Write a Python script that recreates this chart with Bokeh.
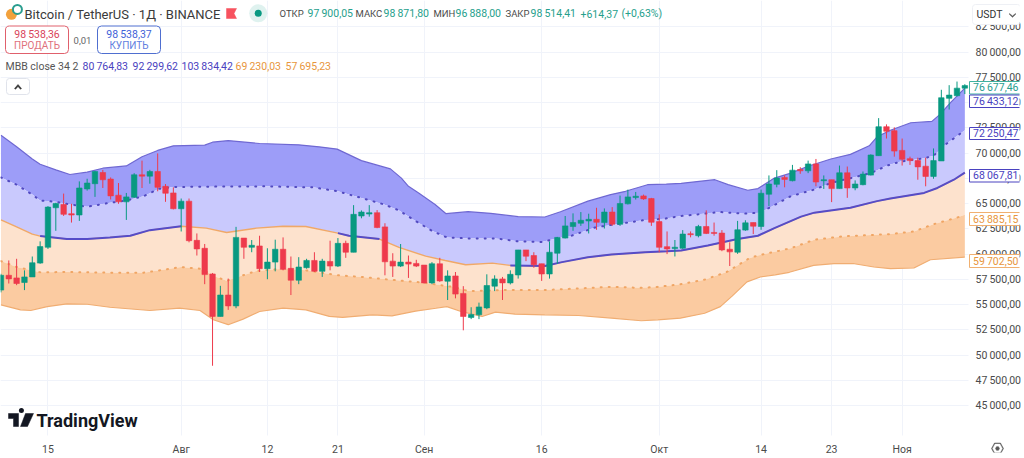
from bokeh.plotting import figure
from bokeh.models import Label, BoxAnnotation, PolyAnnotation, FixedTicker
from bokeh.embed import file_html
from bokeh.resources import INLINE

# ---------- data ----------
first_day = -6  # 9 July, days counted from 15 July
opens = [56438,57905,57644,57188,57742,59111,60676,64588,64914,64000,63871,66446,66968,68076,67424,65827,65175,65631,67848,67717,68174,66707,66055,
 64490,65240,61360,60578,58035,53830,55949,54873,61589,60676,60806,58557,59209,60480,58590,57416,58655,59372,58296,59274,58818,61065,60185,63771,63967,64097,62695,59305,58816,59207,59077,
 58914,57153,59044,57316,57838,56110,53730,53991,54676,56827,57544,57153,57935,60413,59859,59044,58033,60087,61587,62728,63054,63282,63445,63119,64162,62956,64977,65597,65760,65499,
 63217,60739,60549,60581,62016,61820,62733,62146,62081,60483,60190,62374,63124,62733,65927,66905,67590,67264,68373,68242,68927,67264,67362,66482,68047,66547,66873,67818,69742,72611,72219,
 70263,69448,69253,68699,67688,69220,75414,75675,76425]
closes = [57905,57546,57090,57742,59144,60741,64653,65012,63936,63870,66544,67033,68174,67359,65762,65175,65664,67848,67717,68174,66609,66022,64490,
 65240,61328,60513,57970,53830,55949,54873,61654,60676,60871,58557,59209,60480,58492,57416,58720,59372,58296,59307,58818,61065,60185,63934,64162,64097,62630,59240,58816,59207,59011,58816,
 57153,59044,57349,57838,56045,53828,54024,54774,56892,57544,57153,57999,60413,59794,58946,58033,60185,61652,62793,63119,63347,63445,63152,64162,62956,65010,65662,65727,65466,63152,
 60674,60511,60679,61983,61918,62733,62048,62048,60418,60222,62407,63092,62765,66025,66938,67525,67394,68307,68242,68927,67134,67362,66482,68047,66547,66938,67916,69807,72611,72154,70198,
 69383,69253,68633,67688,69253,75479,75740,76425,76677]
highs = [58050,59372,59535,58394,59763,61263,64750,65077,65990,64979,67196,67457,68239,68337,67587,67033,66055,68011,69250,68337,69967,66935,66609,
 65501,65501,62045,61002,58133,56862,57579,62697,61589,61393,61817,60578,61426,61654,59763,59698,59535,60187,59535,61328,61589,61326,64847,64325,64847,64358,63054,60087,60999,59859,59435,
 58914,59207,59631,58392,58229,56827,54741,55197,57999,57903,57740,58392,60413,60413,60185,59044,61261,61700,63771,64032,64162,63999,64586,64521,64651,65792,66379,66151,65890,65564,
 63934,62244,61396,62374,62244,62896,64330,63124,62374,61168,63287,63352,63124,66384,67786,68307,67786,68829,68601,69253,69416,67786,67362,68764,68666,67297,68177,69872,73458,72839,72545,
 71437,69644,69546,69546,70459,76262,76718,77077,76816]
lows = [56210,57090,56927,56438,57742,59045,60513,62306,63773,63121,63284,66283,65664,66544,65403,64979,63382,65566,66544,66968,66218,65175,64425,
 62240,61165,59860,57025,48950,53830,54482,54645,59535,60187,58231,57514,58296,58394,55949,57025,58557,58231,57742,58394,58720,59631,60185,63543,63706,62565,57903,57740,58718,57642,58718,
 57088,57023,57251,55458,55621,52459,53567,53567,54546,56338,55458,57000,57577,59305,58653,57349,57577,59044,61554,62304,62793,62043,62402,62532,62793,62793,64912,65401,65369,62793,
 60185,60000,59766,60516,61657,61657,61983,61820,60288,58821,60027,62309,61983,62407,64754,66612,66612,67199,67949,68014,66710,66449,65145,66482,65569,66319,66808,67786,69742,71437,69644,
 68764,68829,67362,66710,67460,69220,74306,75610,75838]
assert len(opens) == len(closes) == len(highs) == len(lows) == 124

upper2_days = [-6,-4,-2,-1,1,2.8,5,7,10,12,14,16,20,21,23,27,32,34.6,36.9,40,43.7,45.1,46,47.3,49.4,50.8,53.6,56.5,60,63.4,65.4,68.9,71.8,73.7,76.5,78.9,80.8,85.1,86.8,89.3,90.6,92.7,94.8,96.9,99.9,102.4,104.8,105.8,107.5,110.1,112.8,113.9,115.2,117]
upper2_vals = [71760,70619,69413,68891,68337,67881,68109,68500,68728,69641,70260,70717,70782,71075,71238,70945,70815,70619,70391,69250,68435,67520,66707,66053,64912,63999,64195,64032,63706,63673,64195,65238,65890,66216,66868,66933,67004,67362,66873,66319,66482,67525,68014,68666,69416,69872,70720,71600,72252,73002,73132,73882,75023,76433]
upper1_days = [-6,-4,-2,-1,1,2.8,5,7.9,10,12.2,14.1,16,20.2,27.8,33.8,37,38,41,42.9,44.8,46.9,49,50.9,53.7,57.1,60,63,65.1,66.8,69.8,71.9,74,75.9,78.7,80.8,83,85.7,88.9,90.8,91.9,94.8,97.8,99.9,103.3,105,107.1,108.8,111.8,113,114.7,117]
upper1_vals = [67587,66870,65892,65305,65175,64914,64686,65077,65305,65729,66446,66642,66674,66707,66609,66218,65988,65336,64912,64325,63282,62304,61652,61554,61554,61261,61196,61587,61815,62630,62891,63119,63347,63510,63776,63939,64167,64004,64100,64526,65732,66384,67036,67688,68014,68764,69155,69481,69742,70948,72250]
middle_days = [-6,-4,-2,-1,2.4,5,7.9,10.5,13,17,20.2,22.8,26.6,30,32.9,37,38.4,42.3,44.8,48.2,50.7,53.3,56.7,59,63.4,65.6,68.9,71.9,76.2,79,80.8,84.2,88,90.6,92.7,96.1,97.8,102.4,105.8,107.5,111.8,113.5,115.6,117]
middle_vals = [63382,62697,61980,61784,61491,61491,61654,61817,62371,62762,62567,62143,62567,62762,62730,62078,61815,61489,60674,59794,59370,58946,59109,58881,58816,59207,59696,59957,60185,60283,60353,60842,61494,61820,62570,63711,64102,64591,65243,65504,66058,66547,67362,68067]
lower1_days = [-6,-4,-1,2.4,7.9,12.2,15.1,17,19.4,21.5,22.8,24.9,26.6,30,32.9,37,40.1,43.5,47.8,51.6,53.7,57.9,63,67.7,71.9,75.6,77.8,80.7,83.8,86.6,89.5,90.6,94.8,97.8,101.4,107.5,110.5,113,116,117]
lower1_vals = [59307,58720,58198,58231,58166,58166,58492,58720,58557,57742,57351,57905,58329,58557,58394,57905,57740,57479,57186,56762,56338,56436,56436,56599,56762,56659,56757,57018,57474,58224,59593,59864,60581,61429,61755,61983,62244,62961,63613,63885]
lower2_days = [-6,-3.5,-2.2,-0.1,2.4,5,7.9,13,16.8,19.4,21.1,23,24.9,27,30,32.9,35.9,37.6,41.4,43.9,46.9,49.5,50.9,52.8,55.4,57.1,59.6,63.4,67.7,71.9,75.7,77.8,80.7,83.8,85.8,87.3,89.2,90.9,92.8,94.6,97.7,100.3,102.9,105.4,107.5,110.5,112.6,117]
lower2_vals = [54971,54482,54417,54808,55069,55036,54743,54417,54645,54417,53504,53015,53569,54319,54645,54482,53830,53730,53991,53893,54350,54640,54805,54300,53828,54252,54056,53991,53926,53665,53404,53497,53660,54149,54801,55844,57246,57735,57950,58200,58885,59049,59049,58723,58560,58625,59440,59702]
purple_spans = [(-1, 17), (37, 42.3), (59, 117)]

price_ticks = list(range(45000, 85000, 2500))
date_ticks = [0, 17, 28, 37, 48, 63, 78, 91, 100, 109]
date_labels = ["15", "Авг", "12", "21", "Сен", "16", "Окт", "14", "23", "Ноя"]
SP = "\u2009"
def fmt(v):
    s = f"{v:,.2f}"
    return s.replace(",", SP).replace(".", ",")

# ---------- page-pixel helpers (decorations only) ----------
W, H = 1024, 458
PANE_R, PANE_B = 968, 435   # where the chart pane ends on the page
def dx(px): return (px - 47.7) / 7.875
def dy(py): return 77500 - (py - 77.8) * 97.67

GREEN, RED = "#089981", "#ee3a4c"
GRID = "#f0f3fa"
TXT = "#4a4a4a"
FONT = "Roboto"
LEVEL = "annotation"

# the frame fills the canvas so that the price tags may overlap the axis column;
# the axes pull their labels back into it with a negative standoff
p = figure(width=W, height=H, output_backend="svg", toolbar_location=None,
           x_range=(dx(0), dx(W)), y_range=(dy(H), dy(0)),
           y_axis_location="right", min_border=0, min_border_left=0, min_border_top=0,
           min_border_right=0, min_border_bottom=0)
p.outline_line_color = None
p.background_fill_color = "white"
p.border_fill_color = "white"

ya = p.yaxis[0]
ya.ticker = FixedTicker(ticks=price_ticks)
ya.major_label_overrides = {t: fmt(t) for t in price_ticks}
xa = p.xaxis[0]
xa.ticker = FixedTicker(ticks=date_ticks)
xa.major_label_overrides = dict(zip(date_ticks, date_labels))
for a, size, so in ((ya, "10.5px", -50), (xa, "10.5px", -16)):
    a.axis_line_color = None
    a.major_tick_line_color = None
    a.minor_tick_line_color = None
    a.major_label_text_font = FONT
    a.major_label_text_font_size = size
    a.major_label_text_color = TXT
    a.major_label_standoff = so
p.grid.grid_line_color = GRID

def cover(**kw):
    p.add_layout(BoxAnnotation(fill_color="white", fill_alpha=1, line_color=None, level="underlay",
                               left_units="canvas", right_units="canvas", top_units="canvas", bottom_units="canvas", **kw))
cover(left=PANE_R, right=W, top=0, bottom=H)
cover(left=0, right=W, top=PANE_B, bottom=H)

# ---------- bands ----------
def band(x1, y1, x2, y2, color):
    p.patch(list(x1) + list(x2)[::-1], list(y1) + list(y2)[::-1], fill_color=color, line_color=None)

band(upper2_days, upper2_vals, upper1_days, upper1_vals, "#9d9df8")
band(upper1_days, upper1_vals, middle_days, middle_vals, "#c9c9fd")
band(middle_days, middle_vals, lower1_days, lower1_vals, "#fde2cd")
band(lower1_days, lower1_vals, lower2_days, lower2_vals, "#fbcba1")

p.line(upper2_days, upper2_vals, line_color="#6f68d2", line_width=1.2)
p.line(lower2_days, lower2_vals, line_color="#f0ad72", line_width=1.2)
p.line(upper1_days, upper1_vals, line_color="#524ac0", line_width=2, line_dash="1 7", line_cap="round")
p.line(lower1_days, lower1_vals, line_color="#f0a564", line_width=2, line_dash="1 7", line_cap="round")
p.line(middle_days, middle_vals, line_color="#f0a868", line_width=1.4)
for a_, b_ in purple_spans:
    pts = [(d, v) for d, v in zip(middle_days, middle_vals) if a_ <= d <= b_]
    p.line([d for d, _ in pts], [v for _, v in pts], line_color="#554cc8", line_width=2)

# ---------- candles ----------
days = list(range(first_day, first_day + len(opens)))
cols = [GREEN if c >= o else RED for o, c in zip(opens, closes)]
p.segment(days, lows, days, highs, line_color=cols, line_width=1)
p.vbar(x=days, width=0.7, top=[max(o, c) for o, c in zip(opens, closes)],
       bottom=[min(o, c) for o, c in zip(opens, closes)], fill_color=cols, line_color=cols, line_width=0.6)

# ---------- header decorations (canvas pixels) ----------
def label(px, py, text, color=TXT, size=10.5, align="left", font=FONT, style="normal"):
    p.add_layout(Label(x=px, y=py, x_units="canvas", y_units="canvas", text=text, text_color=color,
                       text_font_size=f"{size}px", text_align=align, text_baseline="middle", text_font=font,
                       text_font_style=style, level=LEVEL))
def box(x0, y0, x1, y1, line, fill="white", radius=0, width=1):
    p.add_layout(BoxAnnotation(left=x0, right=x1, top=y0, bottom=y1, left_units="canvas", right_units="canvas",
                               top_units="canvas", bottom_units="canvas", fill_color=fill, fill_alpha=1,
                               line_color=line, line_alpha=1, line_width=width, border_radius=radius, level=LEVEL))
def poly(points, color):
    p.add_layout(PolyAnnotation(xs=[a for a, _ in points], ys=[b for _, b in points], xs_units="canvas",
                                ys_units="canvas", fill_color=color,
                                fill_alpha=1, line_color=color, line_alpha=1, line_width=0.5, level=LEVEL))

p.scatter([dx(11)], [dy(14)], size=11, fill_color="#f2a13c", line_color=None)
p.scatter([dx(17)], [dy(9)], size=9, fill_color="white", line_color="#2a9d8f", line_width=2)
label(24, 13.5, "Bitcoin / TetherUS · 1Д · BINANCE", "#3a3a3a", 13)
poly([(226, 8), (236, 8), (233.5, 13), (236, 18), (226, 18)], "#f7525f")
p.scatter([dx(259)], [dy(13)], size=18, fill_color=GREEN, fill_alpha=0.13, line_color=None)
p.scatter([dx(259)], [dy(13)], size=7, fill_color=GREEN, line_color=None)

OHLC = [("ОТКР", 279, fmt(97900.05), 307), ("МАКС", 355, fmt(98871.80), 383),
        ("МИН", 433, fmt(96888.00), 455), ("ЗАКР", 505, fmt(98514.41), 530)]
for name, x0, val, x1 in OHLC:
    label(x0, 13, name, TXT, 9.5)
    label(x1, 13, val, "#26a08c")
label(580, 13, "+" + fmt(614.37), "#26a08c")
label(621, 13, "(+0,63%)", "#26a08c")

box(5, 25.5, 68, 53, "#e0606c", radius=4)
label(36.5, 33.5, fmt(98538.36), "#d9445a", 10.5, "center")
label(36.5, 45, "ПРОДАТЬ", "#e0707c", 10, "center")
label(82, 39.5, "0,01", "#666666", 9.5, "center")
box(97, 25.5, 160, 53, "#4f6fd0", radius=4)
label(128.5, 33.5, fmt(98538.37), "#3f62d8", 10.5, "center")
label(128.5, 45, "КУПИТЬ", "#5f80e0", 10, "center")

label(5, 66, "MBB close 34 2", "#555555", 10.5)
for x0, v, c in ((82, 80764.83, "#4a42c0"), (132, 92299.62, "#4a42c0"), (181, 103834.42, "#4a42c0"),
                 (235, 69230.03, "#e8963c"), (285, 57695.23, "#e8963c")):
    label(x0, 66, fmt(v), c, 10.5)
box(6, 78, 29, 94, "#e0e3eb", radius=3)
poly([(14, 88), (17.5, 84), (21, 88), (20, 88.8), (17.5, 86), (15, 88.8)], "#333333")

# USDT selector
box(972, 4, 1020, 24, "#eef0f5", radius=3)
label(976, 13.5, "USDT", "#333333", 10.5)
poly([(1009, 13), (1012, 15.5), (1015, 13), (1015, 14), (1012, 16.8), (1009, 14)], "#555555")

# price tags
for y0, y1, v, line, col in ((81, 93.5, 76677.46, "#3fb3a0", "#2a9d8f"), (94.5, 107, 76433.12, "#4a42c0", "#4a42c0"),
                             (127, 139, 72250.47, "#4a42c0", "#4a42c0"), (169, 181.5, 68067.81, "#4a42c0", "#4a42c0"),
                             (212, 225, 63885.15, "#f0b070", "#e8963c"), (254, 267, 59702.50, "#f0b070", "#e8963c")):
    box(969, y0, 1021, y1, line)
    label(1018, (y0 + y1) / 2, fmt(v), col, 10.5, "right")

# logo
poly([(8, 413), (18, 413), (18, 426), (13, 426), (13, 418), (8, 418)], "#131722")
p.scatter([dx(21)], [dy(415.5)], size=5, fill_color="#131722", line_color=None)
poly([(25, 413), (33, 413), (27, 426), (20, 426)], "#131722")
label(36, 420, "TradingView", "#131722", 18, style="bold")

# settings icon
hx, hy = 997, 448
poly([(hx - 6, hy), (hx - 3, hy - 5.5), (hx + 3, hy - 5.5), (hx + 6, hy), (hx + 3, hy + 5.5), (hx - 3, hy + 5.5)], "#555555")
poly([(hx - 4.8, hy), (hx - 2.4, hy - 4.4), (hx + 2.4, hy - 4.4), (hx + 4.8, hy), (hx + 2.4, hy + 4.4), (hx - 2.4, hy + 4.4)], "#ffffff")
poly([(hx - 2, hy), (hx - 1, hy - 1.8), (hx + 1, hy - 1.8), (hx + 2, hy), (hx + 1, hy + 1.8), (hx - 1, hy + 1.8)], "#555555")

open("out.html", "w").write(file_html(p, INLINE))
